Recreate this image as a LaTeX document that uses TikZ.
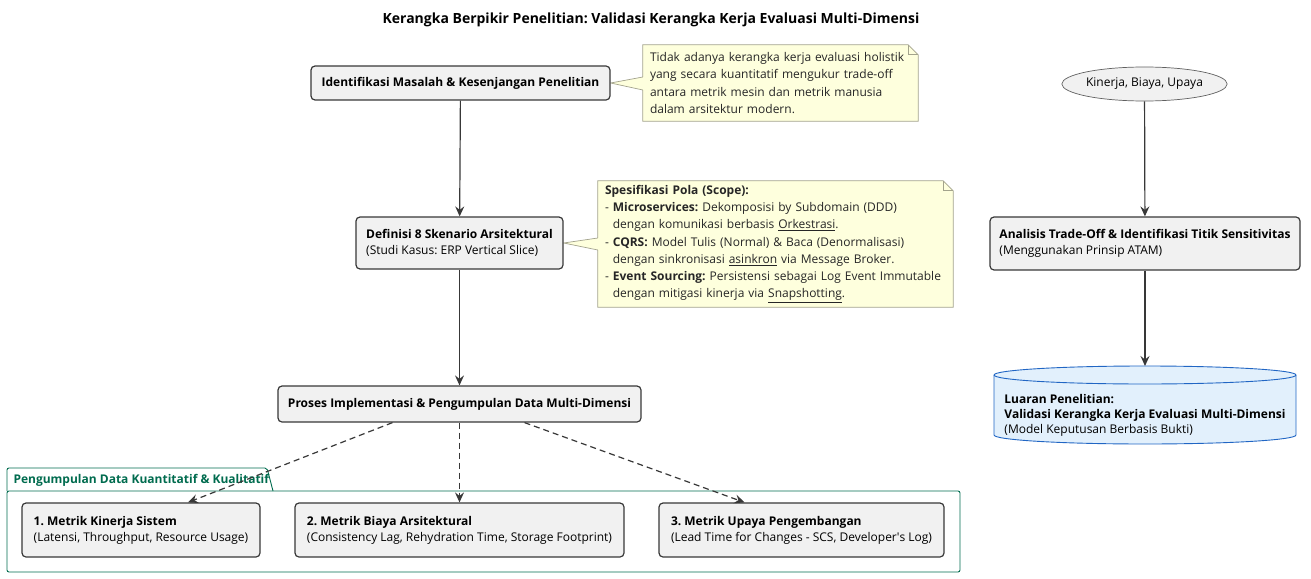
\documentclass[tikz,border=0pt]{standalone}
\usepackage{fontspec}
\setmainfont{Open Sans}
\usetikzlibrary{arrows.meta,shapes.geometric,backgrounds}
\definecolor{boxfill}{HTML}{F1F1F1}
\definecolor{boxline}{HTML}{383838}
\definecolor{notefill}{HTML}{FEFFDD}
\definecolor{noteline}{HTML}{A3A38C}
\definecolor{pkgline}{HTML}{006B4E}
\definecolor{dbfill}{HTML}{E2F0FC}
\definecolor{dbline}{HTML}{2166C4}
\frenchspacing
\tikzset{
	box/.style={draw=boxline, fill=boxfill, line width=1.2pt, rounded corners=4pt, inner sep=0pt, align=left, font=\fontsize{12}{16}\selectfont},
	notetext/.style={inner ysep=0pt, inner xsep=7pt, align=left, text=black!85, font=\fontsize{12}{17.2}\selectfont},
	noteborder/.style={draw=noteline, fill=notefill, line width=0.7pt},
	flow/.style={draw=boxline, line width=1.2pt, -{Stealth[length=10pt, width=9pt, inset=3.5pt]}},
	dashflow/.style={flow, dash pattern=on 6pt off 4pt}
}
\begin{document}
\begin{tikzpicture}[x=1pt, y=-1pt]
		\useasboundingbox (0,0) rectangle (1311,578);
		\node [font=\bfseries\fontsize{14}{16}\selectfont](Judul) at (651,20) {Kerangka Berpikir Penelitian: Validasi Kerangka Kerja Evaluasi Multi-Dimensi};

		\node [box, minimum width=299pt, minimum height=34pt](Masalah) at (460.5,83) {\bfseries Identifikasi Masalah \& Kesenjangan Penelitian};
		\node [box, minimum width=207pt, minimum height=52pt](Skenario) at (459.5,243) {\bfseries Definisi 8 Skenario Arsitektural\\(Studi Kasus: ERP Vertical Slice)};
		\node [box, minimum width=363pt, minimum height=36pt](Proses) at (459.5,404) {\bfseries Proses Implementasi \& Pengumpulan Data Multi-Dimensi};

		\node [box, minimum width=238pt, minimum height=54pt](Kinerja) at (141,530) {\bfseries 1. Metrik Kinerja Sistem\\(Latensi, Throughput, Resource Usage)};
		\node [box, minimum width=329pt, minimum height=54pt](Biaya) at (459.5,530) {\bfseries 2. Metrik Biaya Arsitektural\\(Consistency Lag, Rehydration Time, Storage Footprint)};
		\node [box, minimum width=285pt, minimum height=54pt](Upaya) at (801.5,530) {\bfseries 3. Metrik Upaya Pengembangan\\(Lead Time for Changes - SCS, Developer\textquotesingle s Log)};

		\node [notetext, text width=261pt, minimum height=76pt](NotaMasalah) at (780.5,83) {Tidak adanya kerangka kerja evaluasi holistik\\yang secara kuantitatif mengukur trade-off\\antara metrik mesin dan metrik manusia\\dalam arsitektur modern.};
		\node [notetext, text width=341pt, minimum height=126pt](NotaPola) at (775.5,244) {\textbf{Spesifikasi Pola (Scope):}\\- \textbf{Microservices:} Dekomposisi by Subdomain (DDD)\\\phantom{- }dengan komunikasi berbasis \underline{Orkestrasi}.\\- \textbf{CQRS:} Model Tulis (Normal) \& Baca (Denormalisasi)\\\phantom{- }dengan sinkronisasi \underline{asinkron} via Message Broker.\\- \textbf{Event Sourcing:} Persistensi sebagai Log Event Immutable\\\phantom{- }dengan mitigasi kinerja via \underline{Snapshotting}.};

		\node [ellipse, draw=boxline!80, fill=boxfill, line width=0.7pt, inner sep=0pt, minimum width=149pt, minimum height=34pt, font=\fontsize{12}{15}\selectfont](Dimensi) at (1144.5,84) {Kinerja, Biaya, Upaya};
		\node [box, minimum width=310pt, minimum height=53pt](Analisis) at (1145,243.5) {\bfseries Analisis Trade-Off \& Identifikasi Titik Sensitivitas\\(Menggunakan Prinsip ATAM)};
		\node [inner sep=0pt, align=left, font=\fontsize{12}{15}\selectfont](Luaran) at (1145,415) {\bfseries Luaran Penelitian:\\\bfseries Validasi Kerangka Kerja Evaluasi Multi-Dimensi\\(Model Keputusan Berbasis Bukti)};
		\coordinate (LuaranAtas) at (1145,366);

		\begin{scope}[on background layer]
			\draw [noteborder] (NotaMasalah.south west) -- (NotaMasalah.north west) -- ([xshift=-10pt]NotaMasalah.north east) -- ([yshift=-10pt]NotaMasalah.north east) -- (NotaMasalah.south east) -- cycle;
			\draw [draw=noteline, line width=0.7pt] ([xshift=-10pt]NotaMasalah.north east) |- ([yshift=-10pt]NotaMasalah.north east);
			\fill [notefill] (Masalah.east) -- ([xshift=1pt, yshift=6pt]NotaMasalah.west) -- ([xshift=1pt, yshift=-7pt]NotaMasalah.west) -- cycle;
			\draw [draw=noteline, line width=0.7pt] ([yshift=6pt]NotaMasalah.west) -- (Masalah.east) -- ([yshift=-7pt]NotaMasalah.west);

			\draw [noteborder] (NotaPola.south west) -- (NotaPola.north west) -- ([xshift=-10pt]NotaPola.north east) -- ([yshift=-10pt]NotaPola.north east) -- (NotaPola.south east) -- cycle;
			\draw [draw=noteline, line width=0.7pt] ([xshift=-10pt]NotaPola.north east) |- ([yshift=-10pt]NotaPola.north east);
			\fill [notefill] (Skenario.east) -- ([xshift=1pt, yshift=6pt]NotaPola.west) -- ([xshift=1pt, yshift=-6pt]NotaPola.west) -- cycle;
			\draw [draw=noteline, line width=0.7pt] ([yshift=6pt]NotaPola.west) -- (Skenario.east) -- ([yshift=-6pt]NotaPola.west);

			\draw [draw=dbline, fill=dbfill, line width=0.9pt] (994,375) -- (994,435) arc[start angle=180, end angle=360, x radius=151pt, y radius=9pt] -- (1296,375) arc[start angle=0, end angle=180, x radius=151pt, y radius=9pt] -- cycle;
			\draw [draw=dbline, line width=0.9pt] (994,375) arc[start angle=180, end angle=360, x radius=151pt, y radius=9pt];

			\draw [draw=pkgline, line width=0.9pt, rounded corners=2pt] (7,491) -- (7,468) -- (267,468) -- (273,491);
			\draw [draw=pkgline, line width=0.9pt, rounded corners=2pt] (7,491) rectangle (960,572);
		\end{scope}
		\node [anchor=west, text=pkgline, font=\bfseries\fontsize{12}{13}\selectfont](Paket) at (10,480) {Pengumpulan Data Kuantitatif \& Kualitatif};

		\draw [flow](Masalah)--(Skenario);
		\draw [flow](Skenario)--(Proses);
		\draw [dashflow]([xshift=-67pt]Proses.south)--([xshift=47pt]Kinerja.north);
		\draw [dashflow](Proses)--(Biaya);
		\draw [dashflow]([xshift=65pt]Proses.south)--([xshift=-57pt]Upaya.north);

		\draw [flow](Dimensi)--(Analisis);
		\draw [flow](Analisis)--(LuaranAtas);
	\end{tikzpicture}
\end{document}
